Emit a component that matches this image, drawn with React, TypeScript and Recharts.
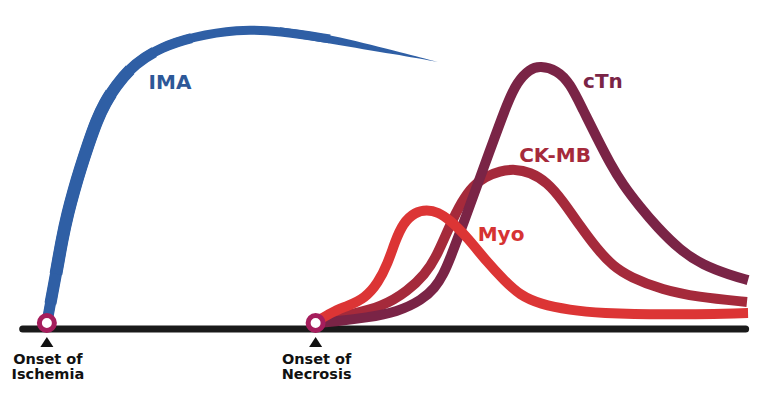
import { ComposedChart, Line, Area, XAxis, YAxis, ReferenceDot } from 'recharts'

// time axis: 0 = onset of ischemia, 10 = onset of necrosis (arbitrary units)
const imaT = [0, 0.19, 0.38, 0.56, 0.78, 1.01, 1.23, 1.53, 1.86, 2.16, 2.53, 3.28, 4.28, 5.4, 7.07, 8.67, 10.53, 13.03, 14.55]
const imaV = [2, 11.3, 20.3, 29.7, 38.7, 46.3, 53, 61.3, 69.7, 75.3, 80.7, 88.7, 94, 97.3, 100, 99.3, 96.7, 92, 89]

const myoT = [10, 10.61, 11.2, 11.84, 12.32, 12.69, 12.95, 13.25, 13.7, 14.14, 14.55, 15.0, 15.63, 16.38, 17.04, 17.6, 18.35, 19.46, 20.58, 22.92, 26.09]
const myoV = [2.3, 5.7, 7.7, 10.3, 15.3, 22, 29, 35.3, 39, 39.7, 39, 36.3, 30.7, 22.3, 16, 11.3, 8.3, 6.3, 5.3, 4.7, 5.3]

const ckmbT = [10, 11.2, 12.47, 13.44, 14.07, 14.48, 15.0, 15.45, 15.85, 16.3, 16.86, 17.42, 17.97, 18.61, 19.2, 19.84, 20.47, 21.06, 21.7, 22.92, 24.19, 26.05]
const ckmbV = [2, 4.7, 7.3, 12.7, 18.3, 23.7, 34.7, 42.7, 47.7, 50.7, 52.7, 53.3, 52.3, 49, 42.7, 34.3, 26.7, 21, 17.3, 13, 10.7, 9]

const ctnT = [10, 10.91, 11.84, 13.06, 13.96, 14.44, 14.74, 15.0, 15.56, 16.11, 16.6, 17.12, 17.49, 17.97, 18.35, 18.98, 19.46, 19.95, 20.47, 20.95, 21.44, 22.07, 22.7, 23.56, 24.41, 25.42, 26.09]
const ctnV = [2, 2.7, 3.7, 5.7, 9.7, 13.7, 18, 23.3, 36.7, 50.3, 62.3, 75, 82.3, 86.7, 87.7, 86.3, 82, 73, 63.7, 55.3, 48, 40.7, 34, 26.3, 21.3, 18, 16.3]

const onsetT = [0, 10]
const onsetLabels = [['Onset of', 'Ischemia'], ['Onset of', 'Necrosis']]

const markerNames = ['IMA', 'cTn', 'CK-MB', 'Myo']
const markerLabelT = [4.58, 20.69, 18.91, 16.9]
const markerLabelV = [80, 80.3, 55.7, 29.3]
const markerColors = ['#2d5898', '#7a2446', '#a52a3b', '#d63333']

const toRows = (ts: number[], vs: number[]) => ts.map((t, i) => ({ t, v: vs[i] }))

const imaRows = toRows(imaT, imaV)
const imaHead = imaRows.filter((r) => r.t <= 10.53)
// tapered tail of the IMA curve, tucked inside the stroke where they overlap
const tailStart = 10.53
const tailEnd = imaT[imaT.length - 1]
const imaTail = imaRows
  .filter((r) => r.t >= 8.67)
  .map((r) => {
    const half = r.t < tailStart ? 1.3 : 1.55 * (tailEnd - r.t) / (tailEnd - tailStart)
    return { t: r.t, band: [r.v - half, r.v + half] }
  })

const baseline = [{ t: -0.9, v: 0 }, { t: 26.0, v: 0 }]

const FONT = '"DejaVu Sans", sans-serif'
const CURVE = 'basis'
const IMA_BLUE = '#2f5fa5'

// IMA stroke is thicker on the rise than across the top
const imaStrokes = [
  { w: 9, dash: undefined },
  { w: 10, dash: '340 4000' },
  { w: 11, dash: '300 4000' },
  { w: 12, dash: '0 20 250 4000' },
  { w: 12.8, dash: '0 50 190 4000' },
]

function OnsetMarker(props: any) {
  const { cx, cy, lines } = props
  return (
    <g>
      <circle cx={cx} cy={cy} r={7.5} fill="#fff" stroke="#a51d5c" strokeWidth={5} />
      <path d={`M${cx},${cy + 14} L${cx + 6.5},${cy + 24} L${cx - 6.5},${cy + 24} Z`} fill="#111" />
      <text x={cx + 1} y={cy + 41} textAnchor="middle" fontFamily={FONT} fontWeight="bold" fontSize={14.5} fill="#111">
        {lines[0]}
      </text>
      <text x={cx + 1} y={cy + 56} textAnchor="middle" fontFamily={FONT} fontWeight="bold" fontSize={14.5} fill="#111">
        {lines[1]}
      </text>
    </g>
  )
}

export default function App() {
  return (
    <div style={{ width: 757, height: 394, background: '#fff' }}>
      <style>{'body{margin:0}'}</style>
      <ComposedChart width={757} height={394} margin={{ top: 14, right: 6, bottom: 65, left: 20 }}>
        <XAxis dataKey="t" type="number" domain={[-1, 26.2]} hide />
        <YAxis type="number" domain={[0, 105]} hide />

        <Line data={baseline} dataKey="v" stroke="#1a1a1a" strokeWidth={7} strokeLinecap="round" dot={false} activeDot={false} isAnimationActive={false} />

        {/* IMA */}
        {imaStrokes.map((s, i) => (
          <Line key={`ima-${i}`} data={imaHead} dataKey="v" type={CURVE} stroke={IMA_BLUE} strokeWidth={s.w} strokeDasharray={s.dash} dot={false} activeDot={false} isAnimationActive={false} />
        ))}
        <Area data={imaTail} dataKey="band" type={CURVE} fill={IMA_BLUE} fillOpacity={1} stroke="none" dot={false} activeDot={false} isAnimationActive={false} />

        <Line data={toRows(ckmbT, ckmbV)} dataKey="v" type={CURVE} stroke="#a52a3b" strokeWidth={10} dot={false} activeDot={false} isAnimationActive={false} />
        <Line data={toRows(ctnT, ctnV)} dataKey="v" type={CURVE} stroke="#7a2446" strokeWidth={10} dot={false} activeDot={false} isAnimationActive={false} />
        <Line data={toRows(myoT, myoV)} dataKey="v" type={CURVE} stroke="#dc3535" strokeWidth={10} dot={false} activeDot={false} isAnimationActive={false} />

        {onsetT.map((t, i) => (
          <ReferenceDot key={`on-${i}`} x={t} y={2} ifOverflow="visible" shape={(p: any) => <OnsetMarker {...p} lines={onsetLabels[i]} />} />
        ))}

        {markerNames.map((name, i) => (
          <ReferenceDot
            key={name}
            x={markerLabelT[i]}
            y={markerLabelV[i]}
            ifOverflow="visible"
            shape={(p: any) => (
              <text x={p.cx} y={p.cy} textAnchor="middle" fontFamily={FONT} fontWeight="bold" fontSize={20} fill={markerColors[i]}>
                {name}
              </text>
            )}
          />
        ))}
      </ComposedChart>
    </div>
  )
}
